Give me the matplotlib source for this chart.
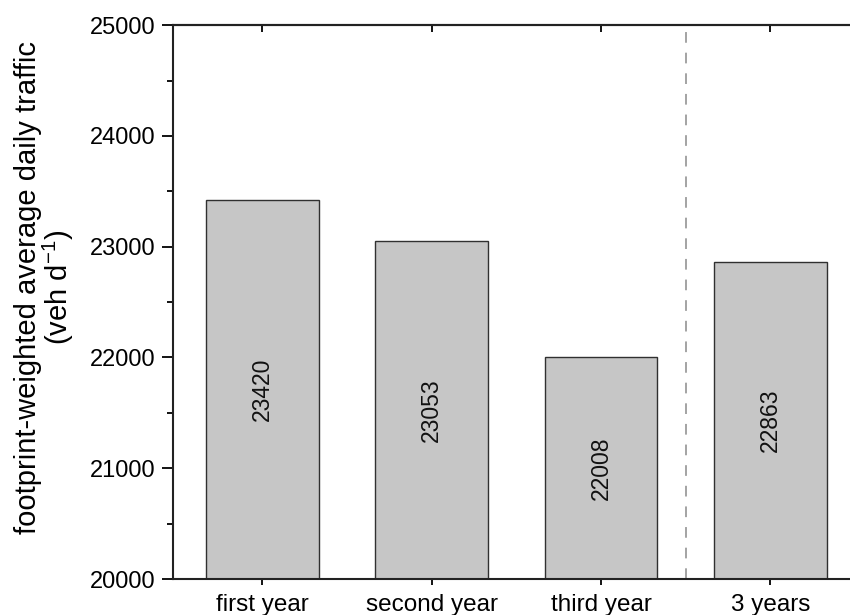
import matplotlib.pyplot as plt

categories = ['first year', 'second year', 'third year', '3 years']
traffic = [23420, 23053, 22008, 22863]
bar_labels = ['23420', '23053', '22008', '22863']

plt.rcParams['font.family'] = ['Liberation Sans', 'DejaVu Sans']

fig = plt.figure(figsize=(8.5, 6.15), dpi=100)
ax = fig.add_axes([0.203, 0.0585, 0.809, 0.9005])

pos = list(range(len(categories)))
ax.bar(pos, [v - 20000 for v in traffic], bottom=20000, width=0.665,
       color='#c6c6c6', edgecolor='#303030', linewidth=1.0, zorder=2)

# value labels inside the bars
for x, v, lab in zip(pos, traffic, bar_labels):
    ax.text(x, (20000 + v) / 2, lab, rotation=90, ha='center', va='center',
            fontsize=16.5, color='#111111', zorder=3)

# separator between single years and the 3-year mean
ax.axvline(2.5, color='#8a8a8a', lw=1.1, linestyle=(0, (7, 6.5)), zorder=1)

ax.set_xlim(-0.53, 3.53)
ax.set_ylim(20000, 25000)
ax.set_xticks(pos)
ax.set_xticklabels(categories, fontsize=17.5)
ax.set_yticks(range(20000, 25001, 1000))
ax.set_yticks(range(20500, 25000, 1000), minor=True)
ax.tick_params(axis='y', which='major', direction='out', length=8, width=1.3,
               labelsize=17, pad=4)
ax.tick_params(axis='y', which='minor', direction='out', length=4.5, width=1.3)
ax.tick_params(axis='x', which='major', direction='out', length=4, width=1.3, pad=7)

top = ax.secondary_xaxis('top')
top.set_xticks(pos)
top.set_xticklabels([])
top.tick_params(direction='in', length=5, width=1.3)
top.spines['top'].set_linewidth(1.5)

for s in ax.spines.values():
    s.set_linewidth(1.5)
    s.set_color('#222222')

ax.set_ylabel('footprint-weighted average daily traffic\n(veh d$^{\\mathregular{-1}}$)',
              fontsize=21, linespacing=0.95)
ax.yaxis.set_label_coords(-0.14, 0.527)

fig.savefig('out.png', dpi=100)
